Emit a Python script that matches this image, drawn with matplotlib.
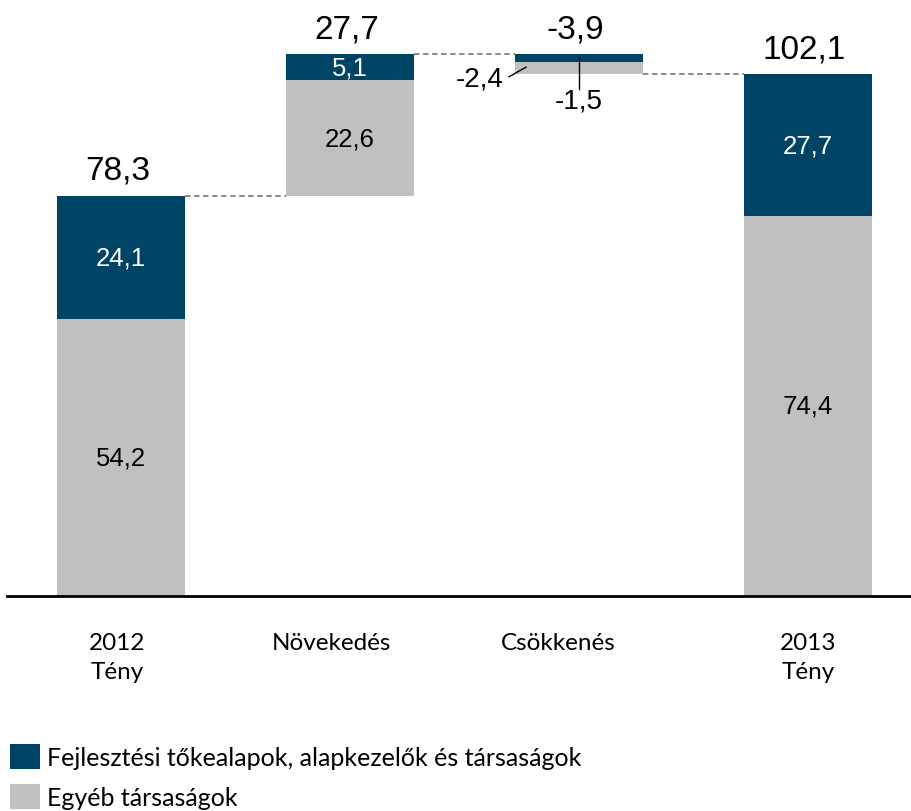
import matplotlib
matplotlib.use("Agg")
import matplotlib.pyplot as plt
from matplotlib.patches import Patch
from matplotlib.transforms import ScaledTranslation

# Data
categories = ["2012\nTény", "Növekedés", "Csökkenés", "2013\nTény"]
fejlesztesi = [24.1, 5.1, -1.5, 27.7]   # dark segment
egyeb = [54.2, 22.6, -2.4, 74.4]        # gray segment
totals = ["78,3", "27,7", "-3,9", "102,1"]
series_names = ["Fejlesztési tőkealapok, alapkezelők és társaságok",
                "Egyéb társaságok"]

DARK = "#004465"
GRAY = "#C0C0C0"

def fmt(v):
    return f"{v:.1f}".replace(".", ",")

# bottoms of the waterfall segments
end_2012 = egyeb[0] + fejlesztesi[0]
grow_top = end_2012 + egyeb[1] + fejlesztesi[1]
gray_bottom = [0, end_2012, grow_top + fejlesztesi[2] + egyeb[2], 0]
gray_height = [egyeb[0], egyeb[1], -egyeb[2], egyeb[3]]
dark_bottom = [egyeb[0], end_2012 + egyeb[1], grow_top + fejlesztesi[2], egyeb[3]]
dark_height = [fejlesztesi[0], fejlesztesi[1], -fejlesztesi[2], fejlesztesi[3]]
tops = [d + h for d, h in zip(dark_bottom, dark_height)]

fig = plt.figure(figsize=(9.12, 8.12), dpi=100)
ax = fig.add_axes([0, 1 - 597 / 812, 1, 597 / 812])
x = list(range(len(categories)))
w = 0.56

ax.bar(x, gray_height, w, bottom=gray_bottom, color=GRAY, linewidth=0)
ax.bar(x, dark_height, w, bottom=dark_bottom, color=DARK, linewidth=0)

ax.set_xlim(-121 / 229, 3 + 104 / 229)
ax.set_ylim(0, 597 / 5.11)

# connectors
conn = [(0, 1, end_2012), (1, 2, grow_top), (2, 3, gray_bottom[2])]
for a, b, y in conn:
    ax.plot([a + w / 2, b - w / 2], [y, y], color="#808080", lw=1.3,
            ls=(0, (3, 2)))

# labels
num_font = "Liberation Sans"
for i in [0, 1, 3]:
    ax.text(i, gray_bottom[i] + gray_height[i] / 2, fmt(egyeb[i]),
            ha="center", va="center", fontsize=18.5, family=num_font, color="black")
    ax.text(i, dark_bottom[i] + dark_height[i] / 2, fmt(fejlesztesi[i]),
            ha="center", va="center", fontsize=18.5, family=num_font, color="white")
for i in range(4):
    ax.text(i - 0.015, tops[i] + 2.0, totals[i], ha="center", va="bottom",
            fontsize=24, family=num_font)

# small decrease labels with leader lines
ax.plot([1.694, 1.769], [101.6, 103.5], color="black", lw=1)
ax.text(1.67, 101.3, fmt(egyeb[2]), ha="right", va="center",
        fontsize=20, family=num_font)
ax.plot([2, 2], [grow_top - 0.6, 99.3], color="black", lw=1)
ax.text(2, 97.0, fmt(fejlesztesi[2]), ha="center", va="center",
        fontsize=20, family=num_font)

ax.axhline(0, xmin=7 / 912, xmax=1, color="black", lw=2, clip_on=False)
for s in ax.spines.values():
    s.set_visible(False)
ax.set_yticks([])
ax.set_xticks(x)
ax.set_xticklabels(categories, fontsize=17.5, family="Lato", linespacing=1.45)
ax.tick_params(axis="x", length=0, pad=26)
# category labels sit slightly left of the bar centres in the original
shifts_px = [-4, -19, -21, 0]
for lbl, dx in zip(ax.get_xticklabels(), shifts_px):
    lbl.set_transform(lbl.get_transform() + ScaledTranslation(dx / 100, 0, fig.dpi_scale_trans))

handles = [Patch(facecolor=DARK, edgecolor="none"),
           Patch(facecolor=GRAY, edgecolor="none")]
fig.legend(handles, series_names, loc="upper left",
           bbox_to_anchor=(0.0, 1 - 735 / 812), frameon=False,
           prop={"family": "Lato", "size": 18},
           handlelength=1.2, handleheight=1.15, handletextpad=0.3,
           labelspacing=0.6, borderaxespad=0, borderpad=0.4)

fig.savefig("out.png", dpi=100)
